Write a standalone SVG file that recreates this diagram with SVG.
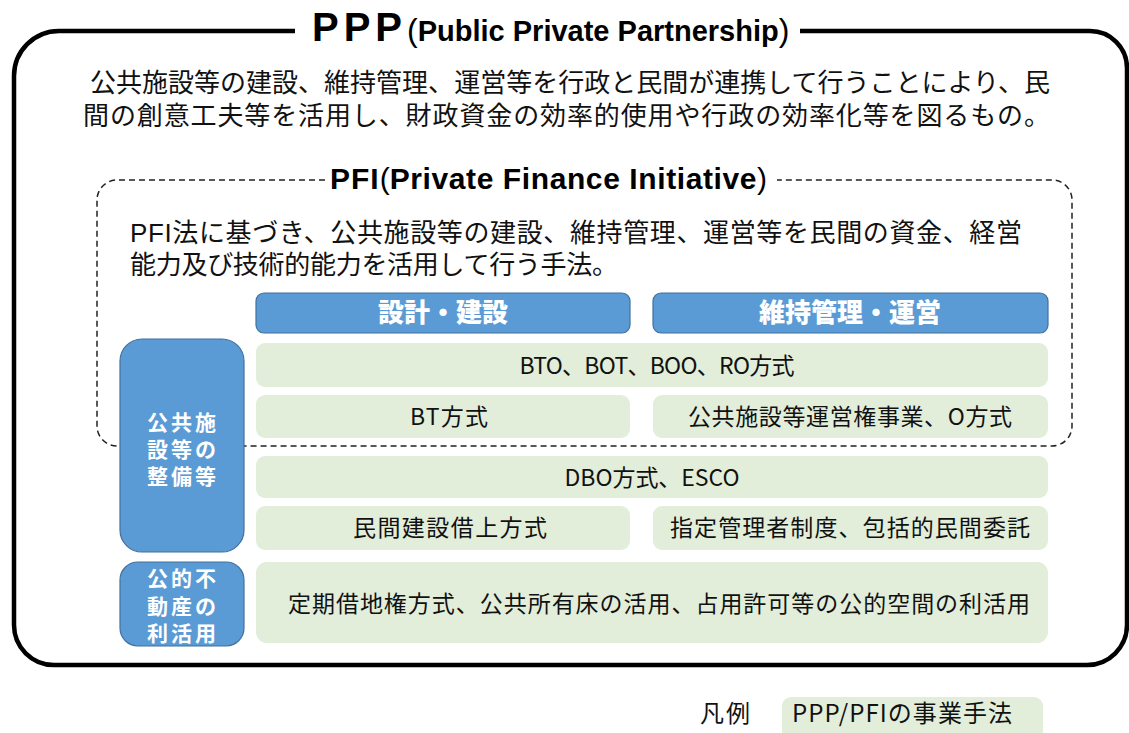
<svg xmlns="http://www.w3.org/2000/svg" width="1129" height="733" viewBox="0 0 1129 733">
<style>
.jp{font-family:"Noto Sans CJK JP","Noto Sans",sans-serif;fill:#111}
.ml{font-family:"Liberation Sans","Noto Sans CJK JP",sans-serif;fill:#111}
.ttl{font-family:"Liberation Sans","Noto Sans CJK JP",sans-serif;font-weight:bold;fill:#000}
.par{font-weight:normal}
.hdr{fill:#5B9BD5;stroke:#41719C;stroke-width:1.2}
.hdrt{font-family:"Noto Sans CJK JP",sans-serif;font-weight:900;fill:#fff;font-size:26px;text-anchor:middle}
.side{font-family:"Liberation Sans","Noto Sans CJK JP",sans-serif;font-weight:bold;fill:#fff;font-size:21px;text-anchor:middle;letter-spacing:3px}
.cell{fill:#E2EEDA}
.ct{font-family:"Noto Sans CJK JP","Noto Sans",sans-serif;fill:#111;font-size:23px;text-anchor:middle}
</style>
<rect width="1129" height="733" fill="#fff"/>
<g id="ppp">
<path d="M295 31 H59 A45 45 0 0 0 14 76 V625 A40 40 0 0 0 54 665 H1087 A40 40 0 0 0 1127 625 V68 A37 37 0 0 0 1090 31 H800" fill="none" stroke="#000" stroke-width="4.5"/>
<text class="ttl" x="312" y="41"><tspan font-size="40" letter-spacing="5">PPP</tspan><tspan class="par" font-size="32">(</tspan><tspan font-size="29">Public Private Partnership</tspan><tspan class="par" font-size="32">)</tspan></text>
<text class="ml" font-size="26" x="90" y="92" textLength="960" lengthAdjust="spacing">公共施設等の建設、維持管理、運営等を行政と民間が連携して行うことにより、民</text>
<text class="ml" font-size="26" x="83" y="125" textLength="967" lengthAdjust="spacing">間の創意工夫等を活用し、財政資金の効率的使用や行政の効率化等を図るもの。</text>
</g>
<g id="pfi">
<path d="M325 180 H117 A20 20 0 0 0 97 200 V426 A20 20 0 0 0 117 446 H1052 A20 20 0 0 0 1072 426 V200 A20 20 0 0 0 1052 180 H777" fill="none" stroke="#222" stroke-width="1.5" stroke-dasharray="6 4"/>
<text class="ttl" x="330" y="189"><tspan font-size="30" letter-spacing="1">PFI</tspan><tspan class="par" font-size="30">(</tspan><tspan font-size="30" letter-spacing="0.6">Private Finance Initiative</tspan><tspan class="par" font-size="30">)</tspan></text>
<text class="ml" font-size="26" x="130" y="242" textLength="892" lengthAdjust="spacing">PFI法に基づき、公共施設等の建設、維持管理、運営等を民間の資金、経営</text>
<text class="ml" font-size="26" x="130" y="274" textLength="488" lengthAdjust="spacing">能力及び技術的能力を活用して行う手法。</text>
</g>
<g id="hdr-design">
<rect class="hdr" x="256" y="293" width="374" height="40" rx="8"/>
<text class="hdrt" x="443" y="322">設計・建設</text>
</g>
<g id="hdr-operation">
<rect class="hdr" x="653" y="293" width="395" height="40" rx="8"/>
<text class="hdrt" x="850" y="322">維持管理・運営</text>
</g>
<g id="side-facility">
<rect class="hdr" x="120" y="339" width="124" height="213" rx="22"/>
<text class="side" x="183" y="430">公共施</text>
<text class="side" x="183" y="457">設等の</text>
<text class="side" x="183" y="484">整備等</text>
</g>
<g id="side-realestate">
<rect class="hdr" x="120" y="562" width="124" height="84" rx="18"/>
<text class="side" x="183" y="586">公的不</text>
<text class="side" x="183" y="614">動産の</text>
<text class="side" x="183" y="641">利活用</text>
</g>
<g id="row-bto">
<rect class="cell" x="256" y="343" width="792" height="44" rx="9"/>
<text class="ct" x="657" y="374" textLength="275" lengthAdjust="spacing">BTO、BOT、BOO、RO方式</text>
</g>
<g id="row-bt">
<rect class="cell" x="256" y="395" width="374" height="43" rx="9"/>
<text class="ct" x="449" y="425" textLength="78" lengthAdjust="spacing">BT方式</text>
</g>
<g id="row-concession">
<rect class="cell" x="653" y="395" width="395" height="43" rx="9"/>
<text class="ct" x="850" y="425" textLength="324" lengthAdjust="spacing">公共施設等運営権事業、O方式</text>
</g>
<g id="row-dbo">
<rect class="cell" x="256" y="456" width="792" height="42" rx="9"/>
<text class="ct" x="652" y="486" textLength="175" lengthAdjust="spacing">DBO方式、ESCO</text>
</g>
<g id="row-lease">
<rect class="cell" x="256" y="506" width="374" height="44" rx="9"/>
<text class="ct" x="450" y="536" textLength="194" lengthAdjust="spacing">民間建設借上方式</text>
</g>
<g id="row-designated">
<rect class="cell" x="653" y="506" width="395" height="44" rx="9"/>
<text class="ct" x="850" y="536" textLength="360" lengthAdjust="spacing">指定管理者制度、包括的民間委託</text>
</g>
<g id="row-land">
<rect class="cell" x="256" y="562" width="792" height="81" rx="11"/>
<text class="ct" x="659" y="612" textLength="742" lengthAdjust="spacing">定期借地権方式、公共所有床の活用、占用許可等の公的空間の利活用</text>
</g>
<g id="legend">
<text class="jp" font-size="24" x="700" y="722" textLength="50" lengthAdjust="spacing">凡例</text>
<rect class="cell" x="782" y="697" width="261" height="50" rx="9"/>
<text class="jp" font-size="24" x="792" y="722" textLength="220" lengthAdjust="spacing">PPP/PFIの事業手法</text>
</g>
<g id="connectors"/>
</svg>
